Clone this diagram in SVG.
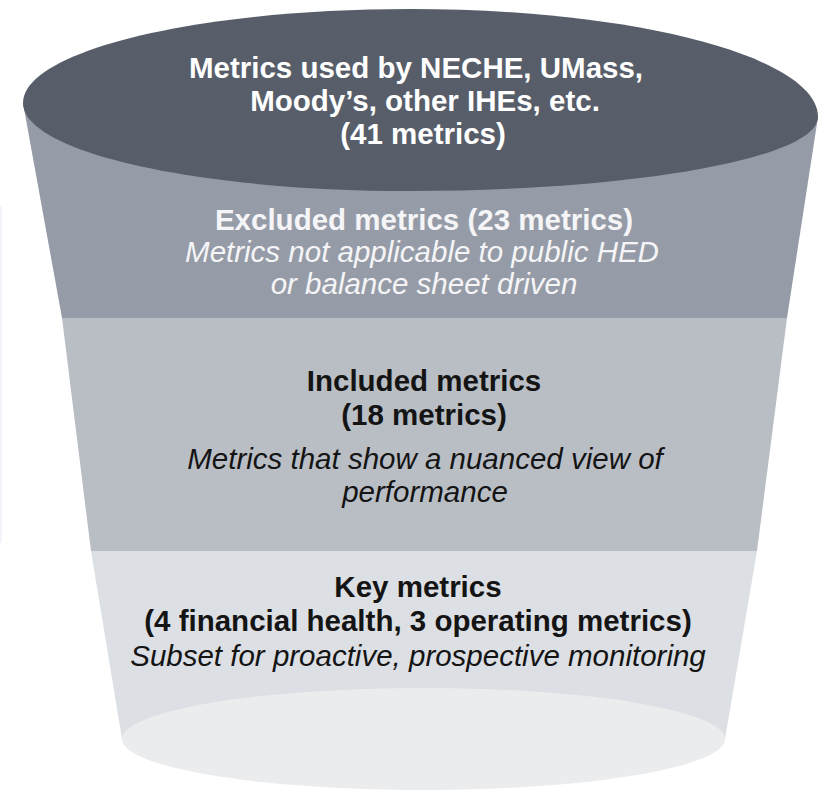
<svg xmlns="http://www.w3.org/2000/svg" width="820" height="792" viewBox="0 0 820 792">
  <style>
    .b { font-family: "Liberation Sans", Arial, sans-serif; font-weight: bold; font-size: 29.5px; text-anchor: middle; }
    .i { font-family: "Liberation Sans", Arial, sans-serif; font-style: italic; font-size: 29.5px; text-anchor: middle; }
    .light { fill: #ffffff; }
    .soft { fill: #f5f5f7; }
    .dark { fill: #141414; }
  </style>
  <rect width="820" height="792" fill="#ffffff"/>
  <rect x="0" y="205" width="1.5" height="338" fill="#eef2f8"/>

  <g id="key-band">
    <polygon points="91,551 757,551 725,739 122,739" fill="#dcdfe3"/>
    <ellipse cx="423.5" cy="739" rx="301.5" ry="51" fill="#ebecee"/>
    <text class="b dark" x="418" y="597">Key metrics</text>
    <text class="b dark" x="418" y="631">(4 financial health, 3 operating metrics)</text>
    <text class="i dark" x="418" y="666">Subset for proactive, prospective monitoring</text>
  </g>

  <g id="included-band">
    <polygon points="62,318 787,318 757,551 91,551" fill="#b9bec5"/>
    <text class="b dark" x="424" y="391">Included metrics</text>
    <text class="b dark" x="424" y="425">(18 metrics)</text>
    <text class="i dark" x="425" y="469">Metrics that show a nuanced view of</text>
    <text class="i dark" x="425" y="502">performance</text>
  </g>

  <g id="excluded-band">
    <polygon points="23,103 818,117 787,318 62,318" fill="#969ca7"/>
    <text class="b soft" x="424" y="230">Excluded metrics (23 metrics)</text>
    <text class="i soft" x="422" y="262">Metrics not applicable to public HED</text>
    <text class="i soft" x="424" y="294">or balance sheet driven</text>
  </g>

  <g id="top-ellipse">
    <path d="M23,103 C23,51 196,9 410,9 C635,9 818,57 818,117 C818,158 635,191 410,191 C196,191 23,152 23,103 Z" fill="#575e6a"/>
    <text class="b light" x="416" y="78">Metrics used by NECHE, UMass,</text>
    <text class="b light" x="425" y="111">Moody’s, other IHEs, etc.</text>
    <text class="b light" x="423" y="144">(41 metrics)</text>
  </g>

  <g id="connectors"></g>
</svg>
